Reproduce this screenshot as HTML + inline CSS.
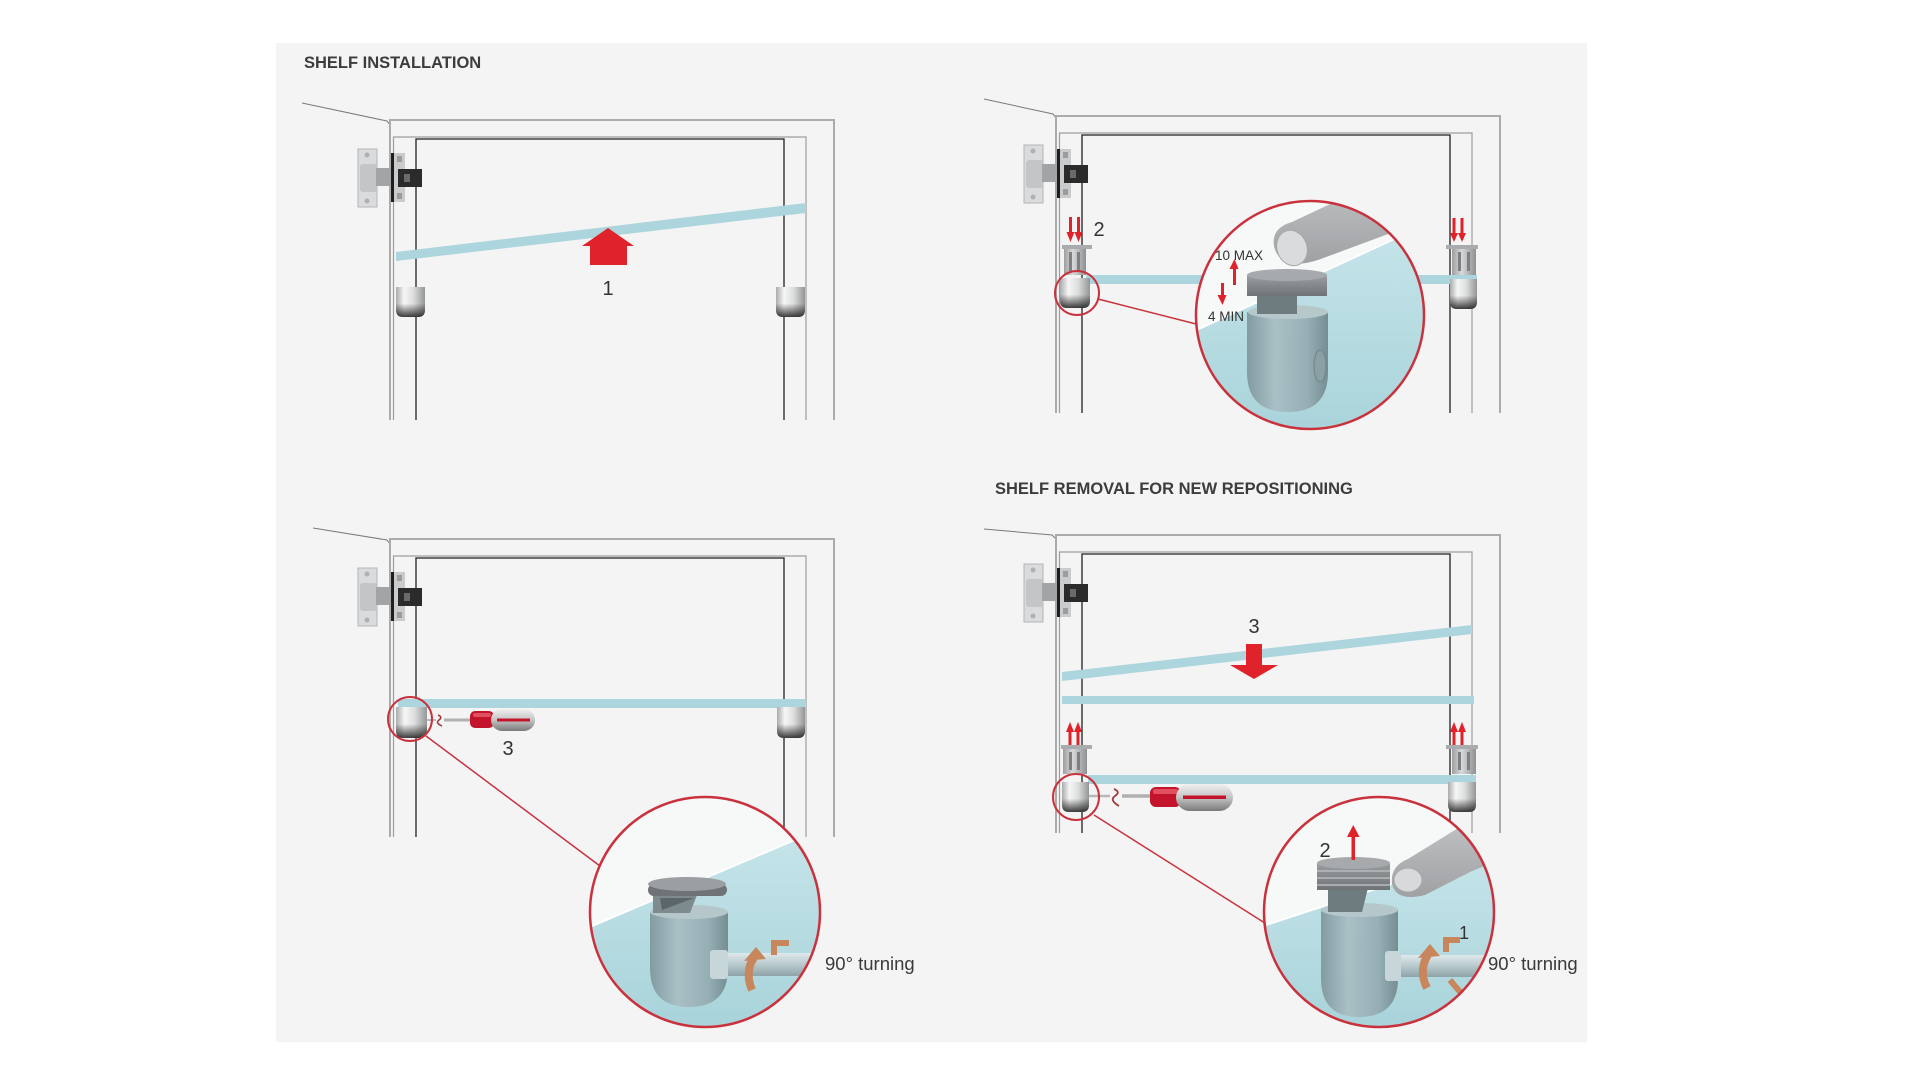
<!DOCTYPE html>
<html><head><meta charset="utf-8">
<style>
html,body{margin:0;padding:0;background:#ffffff;}
svg{display:block;}
text{font-family:"Liberation Sans",Arial,sans-serif;}
</style></head><body>
<svg width="1920" height="1080" viewBox="0 0 1920 1080" xmlns="http://www.w3.org/2000/svg">
<defs>
 <linearGradient id="cup" x1="0" x2="1" y1="0" y2="0">
  <stop offset="0" stop-color="#a9abad"/>
  <stop offset="0.28" stop-color="#f6f6f6"/>
  <stop offset="0.6" stop-color="#dcdddd"/>
  <stop offset="1" stop-color="#939597"/>
 </linearGradient>
 <linearGradient id="cupv" x1="0" x2="0" y1="0" y2="1">
  <stop offset="0" stop-color="#222" stop-opacity="0"/>
  <stop offset="0.55" stop-color="#222" stop-opacity="0"/>
  <stop offset="1" stop-color="#1a1a1a" stop-opacity="0.85"/>
 </linearGradient>
 <linearGradient id="clip" x1="0" x2="1" y1="0" y2="0">
  <stop offset="0" stop-color="#9c9ea0"/>
  <stop offset="0.4" stop-color="#d8d9da"/>
  <stop offset="1" stop-color="#8d8f91"/>
 </linearGradient>
 <linearGradient id="blue" x1="0" y1="0" x2="0" y2="1">
  <stop offset="0" stop-color="#c6e5ea"/>
  <stop offset="1" stop-color="#a8d3da"/>
 </linearGradient>
 <linearGradient id="body" x1="0" x2="1" y1="0" y2="0">
  <stop offset="0" stop-color="#7d969c"/>
  <stop offset="0.35" stop-color="#a8bec3"/>
  <stop offset="0.75" stop-color="#93abb1"/>
  <stop offset="1" stop-color="#6e878d"/>
 </linearGradient>
 <linearGradient id="pin" x1="0" x2="0" y1="0" y2="1">
  <stop offset="0" stop-color="#dfe9eb"/>
  <stop offset="0.5" stop-color="#b7c9cd"/>
  <stop offset="1" stop-color="#8ea4a9"/>
 </linearGradient>
 <linearGradient id="handle" x1="0" x2="0" y1="0" y2="1">
  <stop offset="0" stop-color="#f0f0f0"/>
  <stop offset="0.5" stop-color="#c4c4c4"/>
  <stop offset="1" stop-color="#7a7a7a"/>
 </linearGradient>
 <linearGradient id="finger" x1="0" x2="0" y1="0" y2="1">
  <stop offset="0" stop-color="#c9cacc"/>
  <stop offset="1" stop-color="#9fa1a4"/>
 </linearGradient>
 <linearGradient id="capg" x1="0" x2="0" y1="0" y2="1">
  <stop offset="0" stop-color="#9a9ea1"/>
  <stop offset="1" stop-color="#6f7376"/>
 </linearGradient>
 <clipPath id="c2"><circle cx="1310" cy="315" r="114"/></clipPath>
 <clipPath id="c3"><circle cx="705" cy="912" r="115"/></clipPath>
 <clipPath id="c4"><circle cx="1379" cy="912" r="115"/></clipPath>
</defs>

<rect x="276" y="43" width="1311" height="999" fill="#f4f4f4"/>

<text x="304" y="68" font-size="16.5" font-weight="bold" fill="#3c3c3c">SHELF INSTALLATION</text>
<text x="995" y="494" font-size="16.5" font-weight="bold" fill="#3c3c3c">SHELF REMOVAL FOR NEW REPOSITIONING</text>

<g fill="none" stroke="#7a7a7a" stroke-width="1">
 <polyline points="302,103 387,121 390,125"/>
 <polyline points="984,99 1053,114 1056,118"/>
 <polyline points="313,528 387,540 390,544"/>
 <polyline points="984,529 1052,535 1056,539"/>
</g>

<g transform="translate(390,120)" fill="none">
 <polyline points="0,300 0,0 444,0 444,300" stroke="#ababab" stroke-width="2"/>
 <polyline points="3.5,300 3.5,17 416,17 416,300" stroke="#9d9d9d" stroke-width="1.2"/>
 <polyline points="26,300 26,19 394,19 394,300" stroke="#1f1f1f" stroke-width="1.3"/>
</g>
<g transform="translate(1056,116)" fill="none">
 <polyline points="0,297 0,0 444,0 444,297" stroke="#ababab" stroke-width="2"/>
 <polyline points="3.5,297 3.5,17 416,17 416,297" stroke="#9d9d9d" stroke-width="1.2"/>
 <polyline points="26,297 26,19 394,19 394,297" stroke="#1f1f1f" stroke-width="1.3"/>
</g>
<g transform="translate(390,539)" fill="none">
 <polyline points="0,298 0,0 444,0 444,298" stroke="#ababab" stroke-width="2"/>
 <polyline points="3.5,298 3.5,17 416,17 416,298" stroke="#9d9d9d" stroke-width="1.2"/>
 <polyline points="26,298 26,19 394,19 394,298" stroke="#1f1f1f" stroke-width="1.3"/>
</g>
<g transform="translate(1056,535)" fill="none">
 <polyline points="0,298 0,0 444,0 444,298" stroke="#ababab" stroke-width="2"/>
 <polyline points="3.5,298 3.5,17 416,17 416,298" stroke="#9d9d9d" stroke-width="1.2"/>
 <polyline points="26,298 26,19 394,19 394,298" stroke="#1f1f1f" stroke-width="1.3"/>
</g>

<g transform="translate(390,120)">
 <rect x="-32" y="29" width="19" height="58" fill="#dadbdc" stroke="#b3b5b7" stroke-width="1"/>
 <rect x="-30" y="44" width="17" height="28" rx="3" fill="#c3c5c7"/>
 <circle cx="-23" cy="35" r="2.5" fill="#aeb0b2"/>
 <circle cx="-23" cy="81" r="2.5" fill="#aeb0b2"/>
 <rect x="-14" y="48" width="18" height="18" fill="#a2a4a6"/>
 <rect x="1" y="33" width="14" height="49" fill="#c9cbcd"/>
 <rect x="1" y="33" width="3" height="49" fill="#1e1e1e"/>
 <rect x="7" y="36" width="5" height="6" fill="#9a9c9e"/>
 <rect x="7" y="73" width="5" height="6" fill="#9a9c9e"/>
 <rect x="8" y="49" width="24" height="18" fill="#2b2b2b"/>
 <rect x="14" y="54" width="6" height="8" fill="#6a6a6a"/>
</g>
<g transform="translate(1056,116)">
 <rect x="-32" y="29" width="19" height="58" fill="#dadbdc" stroke="#b3b5b7" stroke-width="1"/>
 <rect x="-30" y="44" width="17" height="28" rx="3" fill="#c3c5c7"/>
 <circle cx="-23" cy="35" r="2.5" fill="#aeb0b2"/>
 <circle cx="-23" cy="81" r="2.5" fill="#aeb0b2"/>
 <rect x="-14" y="48" width="18" height="18" fill="#a2a4a6"/>
 <rect x="1" y="33" width="14" height="49" fill="#c9cbcd"/>
 <rect x="1" y="33" width="3" height="49" fill="#1e1e1e"/>
 <rect x="7" y="36" width="5" height="6" fill="#9a9c9e"/>
 <rect x="7" y="73" width="5" height="6" fill="#9a9c9e"/>
 <rect x="8" y="49" width="24" height="18" fill="#2b2b2b"/>
 <rect x="14" y="54" width="6" height="8" fill="#6a6a6a"/>
</g>
<g transform="translate(390,539)">
 <rect x="-32" y="29" width="19" height="58" fill="#dadbdc" stroke="#b3b5b7" stroke-width="1"/>
 <rect x="-30" y="44" width="17" height="28" rx="3" fill="#c3c5c7"/>
 <circle cx="-23" cy="35" r="2.5" fill="#aeb0b2"/>
 <circle cx="-23" cy="81" r="2.5" fill="#aeb0b2"/>
 <rect x="-14" y="48" width="18" height="18" fill="#a2a4a6"/>
 <rect x="1" y="33" width="14" height="49" fill="#c9cbcd"/>
 <rect x="1" y="33" width="3" height="49" fill="#1e1e1e"/>
 <rect x="7" y="36" width="5" height="6" fill="#9a9c9e"/>
 <rect x="7" y="73" width="5" height="6" fill="#9a9c9e"/>
 <rect x="8" y="49" width="24" height="18" fill="#2b2b2b"/>
 <rect x="14" y="54" width="6" height="8" fill="#6a6a6a"/>
</g>
<g transform="translate(1056,535)">
 <rect x="-32" y="29" width="19" height="58" fill="#dadbdc" stroke="#b3b5b7" stroke-width="1"/>
 <rect x="-30" y="44" width="17" height="28" rx="3" fill="#c3c5c7"/>
 <circle cx="-23" cy="35" r="2.5" fill="#aeb0b2"/>
 <circle cx="-23" cy="81" r="2.5" fill="#aeb0b2"/>
 <rect x="-14" y="48" width="18" height="18" fill="#a2a4a6"/>
 <rect x="1" y="33" width="14" height="49" fill="#c9cbcd"/>
 <rect x="1" y="33" width="3" height="49" fill="#1e1e1e"/>
 <rect x="7" y="36" width="5" height="6" fill="#9a9c9e"/>
 <rect x="7" y="73" width="5" height="6" fill="#9a9c9e"/>
 <rect x="8" y="49" width="24" height="18" fill="#2b2b2b"/>
 <rect x="14" y="54" width="6" height="8" fill="#6a6a6a"/>
</g>

<g fill="#acd5dd">
 <polygon points="396,252 806,203 806,213 396,261"/>
 <rect x="1086" y="275" width="391" height="9"/>
 <rect x="398" y="699" width="408" height="9"/>
 <polygon points="1062,672 1472,625 1472,634 1062,681"/>
 <rect x="1062" y="696" width="412" height="8"/>
 <rect x="1088" y="775" width="388" height="9"/>
</g>

<g>
 <rect x="1062" y="245" width="30" height="4" fill="#a9abad"/>
 <rect x="1064" y="249" width="22" height="26" fill="url(#clip)"/>
 <rect x="1069" y="252" width="3" height="19" fill="#7d7f81"/>
 <rect x="1077" y="252" width="3" height="19" fill="#7d7f81"/>
 <rect x="1446" y="245" width="32" height="4" fill="#a9abad"/>
 <rect x="1452" y="249" width="24" height="26" fill="url(#clip)"/>
 <rect x="1458" y="252" width="3" height="19" fill="#7d7f81"/>
 <rect x="1467" y="252" width="3" height="19" fill="#7d7f81"/>
 <rect x="1061" y="745" width="31" height="4" fill="#a9abad"/>
 <rect x="1063" y="749" width="24" height="25" fill="url(#clip)"/>
 <rect x="1069" y="752" width="3" height="18" fill="#7d7f81"/>
 <rect x="1077" y="752" width="3" height="18" fill="#7d7f81"/>
 <rect x="1446" y="745" width="32" height="4" fill="#a9abad"/>
 <rect x="1452" y="749" width="24" height="25" fill="url(#clip)"/>
 <rect x="1458" y="752" width="3" height="18" fill="#7d7f81"/>
 <rect x="1467" y="752" width="3" height="18" fill="#7d7f81"/>
</g>

<g>
 <path d="M396,287 L425,287 L425,310 Q425,317 418,317 L403,317 Q396,317 396,310 Z" fill="url(#cup)"/>
 <path d="M396,287 L425,287 L425,310 Q425,317 418,317 L403,317 Q396,317 396,310 Z" fill="url(#cupv)"/>
 <path d="M776,287 L805,287 L805,310 Q805,317 798,317 L783,317 Q776,317 776,310 Z" fill="url(#cup)"/>
 <path d="M776,287 L805,287 L805,310 Q805,317 798,317 L783,317 Q776,317 776,310 Z" fill="url(#cupv)"/>
 <path d="M1060,278 L1090,278 L1090,301 Q1090,308 1083,308 L1067,308 Q1060,308 1060,301 Z" fill="url(#cup)"/>
 <path d="M1060,278 L1090,278 L1090,301 Q1090,308 1083,308 L1067,308 Q1060,308 1060,301 Z" fill="url(#cupv)"/>
 <path d="M1450,279 L1477,279 L1477,302 Q1477,309 1470,309 L1457,309 Q1450,309 1450,302 Z" fill="url(#cup)"/>
 <path d="M1450,279 L1477,279 L1477,302 Q1477,309 1470,309 L1457,309 Q1450,309 1450,302 Z" fill="url(#cupv)"/>
 <path d="M396,707 L427,707 L427,731 Q427,738 420,738 L403,738 Q396,738 396,731 Z" fill="url(#cup)"/>
 <path d="M396,707 L427,707 L427,731 Q427,738 420,738 L403,738 Q396,738 396,731 Z" fill="url(#cupv)"/>
 <path d="M777,707 L805,707 L805,731 Q805,738 798,738 L784,738 Q777,738 777,731 Z" fill="url(#cup)"/>
 <path d="M777,707 L805,707 L805,731 Q805,738 798,738 L784,738 Q777,738 777,731 Z" fill="url(#cupv)"/>
 <path d="M1062,782 L1089,782 L1089,805 Q1089,812 1082,812 L1069,812 Q1062,812 1062,805 Z" fill="url(#cup)"/>
 <path d="M1062,782 L1089,782 L1089,805 Q1089,812 1082,812 L1069,812 Q1062,812 1062,805 Z" fill="url(#cupv)"/>
 <path d="M1448,782 L1476,782 L1476,805 Q1476,812 1469,812 L1455,812 Q1448,812 1448,805 Z" fill="url(#cup)"/>
 <path d="M1448,782 L1476,782 L1476,805 Q1476,812 1469,812 L1455,812 Q1448,812 1448,805 Z" fill="url(#cupv)"/>
</g>

<g fill="#e0222a">
 <polygon points="608,228 634,246 627,246 627,265 590,265 590,246 582,246"/>
 <rect x="1069" y="217" width="3" height="16"/><polygon points="1066.5,232 1074.5,232 1070.5,242"/>
 <rect x="1077" y="217" width="3" height="16"/><polygon points="1074.5,232 1082.5,232 1078.5,242"/>
 <rect x="1452.5" y="218" width="3" height="16"/><polygon points="1450,233 1458,233 1454,242"/>
 <rect x="1460.5" y="218" width="3" height="16"/><polygon points="1458,233 1466,233 1462,242"/>
 <rect x="1068.5" y="731" width="3" height="14"/><polygon points="1066,732 1074,732 1070,722"/>
 <rect x="1076.5" y="731" width="3" height="14"/><polygon points="1074,732 1082,732 1078,722"/>
 <rect x="1452.5" y="731" width="3" height="14"/><polygon points="1450,732 1458,732 1454,722"/>
 <rect x="1460.5" y="731" width="3" height="14"/><polygon points="1458,732 1466,732 1462,722"/>
 <polygon points="1246,644 1262,644 1262,665 1278,665 1254,679 1230,665 1246,665"/>
</g>

<g>
 <line x1="427" y1="720" x2="436" y2="720" stroke="#b8b8b8" stroke-width="2"/>
 <path d="M438,715 q5,2 1,5 q-4,3 3,6" stroke="#a33a3a" stroke-width="1.6" fill="none"/>
 <line x1="444" y1="720" x2="472" y2="720" stroke="#b0b0b0" stroke-width="3"/>
 <rect x="470" y="711" width="24" height="17" rx="5" fill="#c4142c"/>
 <rect x="473" y="713" width="18" height="4" rx="2" fill="#e05060"/>
 <rect x="491" y="709" width="44" height="22" rx="11" fill="url(#handle)"/>
 <rect x="497" y="718.5" width="33" height="3" fill="#c4142c"/>

 <line x1="1089" y1="796" x2="1110" y2="796" stroke="#b8b8b8" stroke-width="2.5"/>
 <path d="M1114,789 q7,3 1,7 q-6,4 4,10" stroke="#a33a3a" stroke-width="1.8" fill="none"/>
 <line x1="1122" y1="796" x2="1152" y2="796" stroke="#b0b0b0" stroke-width="3.5"/>
 <rect x="1150" y="787" width="31" height="20" rx="6" fill="#c4142c"/>
 <rect x="1153" y="789" width="25" height="5" rx="2" fill="#e05060"/>
 <rect x="1176" y="784" width="57" height="27" rx="13.5" fill="url(#handle)"/>
 <rect x="1183" y="795.5" width="43" height="3.5" fill="#c4142c"/>
</g>

<g fill="#333" font-size="20" text-anchor="middle">
 <text x="608" y="295">1</text>
 <text x="1099" y="236">2</text>
 <text x="508" y="755">3</text>
 <text x="1254" y="633">3</text>
</g>

<g fill="none" stroke="#c9323d">
 <circle cx="1077" cy="293" r="22" stroke-width="2"/>
 <line x1="1098" y1="299" x2="1200" y2="325" stroke-width="1.5"/>
 <circle cx="410" cy="719" r="22" stroke-width="2"/>
 <line x1="426" y1="736" x2="600" y2="866" stroke-width="1.5"/>
 <circle cx="1076" cy="797" r="23" stroke-width="2"/>
 <line x1="1094" y1="815" x2="1268" y2="925" stroke-width="1.5"/>
</g>

<circle cx="1310" cy="315" r="114" fill="#f7f8f8"/>
<g clip-path="url(#c2)">
 <polygon points="1190,333 1383,243 1440,218 1440,440 1190,440" fill="url(#blue)"/>
 <line x1="1190" y1="333" x2="1440" y2="218" stroke="#ffffff" stroke-width="2"/>
 <path d="M1247,312 L1328,312 L1328,372 Q1328,412 1288,412 Q1247,412 1247,372 Z" fill="url(#body)" opacity="0.92"/>
 <ellipse cx="1288" cy="312" rx="40" ry="7" fill="#b7c8cb"/>
 <ellipse cx="1320" cy="366" rx="6" ry="16" fill="#8aa0a5" stroke="#6f8489" stroke-width="1"/>
 <rect x="1257" y="294" width="40" height="20" fill="#6e7b7f"/>
 <rect x="1247" y="275" width="80" height="21" fill="url(#capg)"/>
 <ellipse cx="1287" cy="275" rx="40" ry="6" fill="#a6aaac"/>
 <path d="M1274,246 Q1271,228 1292,222 L1360,190 L1440,160 L1440,215 L1410,226 L1318,260 Q1280,272 1274,246 Z" fill="url(#finger)"/>
 <ellipse cx="1292" cy="248" rx="15" ry="18" transform="rotate(-20 1292 248)" fill="#dadbdc" stroke="#a5a7a9" stroke-width="1"/>
</g>
<circle cx="1310" cy="315" r="114" fill="none" stroke="#c9323d" stroke-width="2.5"/>
<text x="1215" y="260" font-size="13.5" fill="#333">10 MAX</text>
<text x="1208" y="321" font-size="13.5" fill="#333">4 MIN</text>
<g fill="#e0222a">
 <rect x="1233" y="267" width="3" height="18"/><polygon points="1229.5,269 1238.5,269 1234.5,259"/>
 <rect x="1221" y="283" width="3" height="13"/><polygon points="1217.5,295 1226.5,295 1222.5,305"/>
</g>

<circle cx="705" cy="912" r="115" fill="#f7f8f8"/>
<g clip-path="url(#c3)">
 <polygon points="585,929 830,825 830,1030 585,1030" fill="url(#blue)"/>
 <line x1="585" y1="929" x2="830" y2="825" stroke="#ffffff" stroke-width="2"/>
 <path d="M650,912 L728,912 L728,968 Q728,1007 689,1007 Q650,1007 650,968 Z" fill="url(#body)" opacity="0.92"/>
 <ellipse cx="689" cy="912" rx="39" ry="7" fill="#b5c7ca"/>
 <rect x="711" y="953" width="100" height="23" fill="url(#pin)"/>
 <rect x="710" y="950" width="18" height="29" rx="3" fill="#c6d6d9"/>
 <polygon points="653,895 697,895 690,913 653,913" fill="#7d8b8f"/>
 <polygon points="660,898 694,898 662,910" fill="#5a666a"/>
 <rect x="648" y="884" width="79" height="12" rx="6" fill="#6f7376"/>
 <ellipse cx="687" cy="884" rx="39" ry="7" fill="#9b9fa2"/>
 <path d="M752,990 C746,976 749,964 754,958" stroke="#c8865c" stroke-width="8" fill="none"/>
 <polygon points="744,961 766,959 756,947" fill="#c8865c"/>
 <path d="M774,955 L774,943 L789,943" stroke="#c8865c" stroke-width="6" fill="none"/>
</g>
<circle cx="705" cy="912" r="115" fill="none" stroke="#c9323d" stroke-width="2.5"/>
<text x="825" y="970" font-size="18.5" fill="#3a3a3a">90° turning</text>

<circle cx="1379" cy="912" r="115" fill="#f7f8f8"/>
<g clip-path="url(#c4)">
 <polygon points="1260,927 1500,848 1500,1030 1260,1030" fill="url(#blue)"/>
 <line x1="1260" y1="927" x2="1500" y2="848" stroke="#ffffff" stroke-width="2"/>
 <path d="M1321,910 L1398,910 L1398,978 Q1398,1017 1359,1017 Q1321,1017 1321,978 Z" fill="url(#body)" opacity="0.92"/>
 <ellipse cx="1359.5" cy="910" rx="38.5" ry="7" fill="#b5c7ca"/>
 <rect x="1392" y="955" width="110" height="22" fill="url(#pin)"/>
 <rect x="1385" y="951" width="16" height="30" rx="3" fill="#c6d6d9"/>
 <polygon points="1328,888 1368,888 1362,912 1328,912" fill="#6e7b7f"/>
 <rect x="1317" y="863" width="73" height="27" fill="url(#capg)"/>
 <line x1="1317" y1="871" x2="1390" y2="871" stroke="#b8bbbd" stroke-width="1.5"/>
 <line x1="1317" y1="878" x2="1390" y2="878" stroke="#b8bbbd" stroke-width="1.5"/>
 <line x1="1317" y1="885" x2="1390" y2="885" stroke="#b8bbbd" stroke-width="1.5"/>
 <ellipse cx="1353.5" cy="863" rx="36.5" ry="6" fill="#a7aaac"/>
 <path d="M1392,884 Q1390,866 1408,859 L1455,830 L1510,800 L1510,855 L1470,872 L1425,895 Q1396,902 1392,884 Z" fill="url(#finger)"/>
 <ellipse cx="1408" cy="880" rx="14" ry="12" fill="#d8d9da" stroke="#a5a7a9" stroke-width="1"/>
 <path d="M1427,988 C1420,975 1423,962 1428,955" stroke="#c8865c" stroke-width="8" fill="none"/>
 <polygon points="1418,958 1440,956 1430,944" fill="#c8865c"/>
 <path d="M1446,952 L1446,940 L1460,940" stroke="#c8865c" stroke-width="6" fill="none"/>
 <path d="M1450,980 Q1458,990 1466,998" stroke="#c8865c" stroke-width="6" fill="none"/>
</g>
<circle cx="1379" cy="912" r="115" fill="none" stroke="#c9323d" stroke-width="2.5"/>
<text x="1325" y="857" font-size="20" fill="#333" text-anchor="middle">2</text>
<text x="1464" y="939" font-size="18" fill="#333" text-anchor="middle">1</text>
<g fill="#e0222a">
 <rect x="1351.5" y="834" width="3.5" height="26"/><polygon points="1347,837 1359.5,837 1353.25,825"/>
</g>
<text x="1488" y="970" font-size="18.5" fill="#3a3a3a">90° turning</text>

</svg>
</body></html>
